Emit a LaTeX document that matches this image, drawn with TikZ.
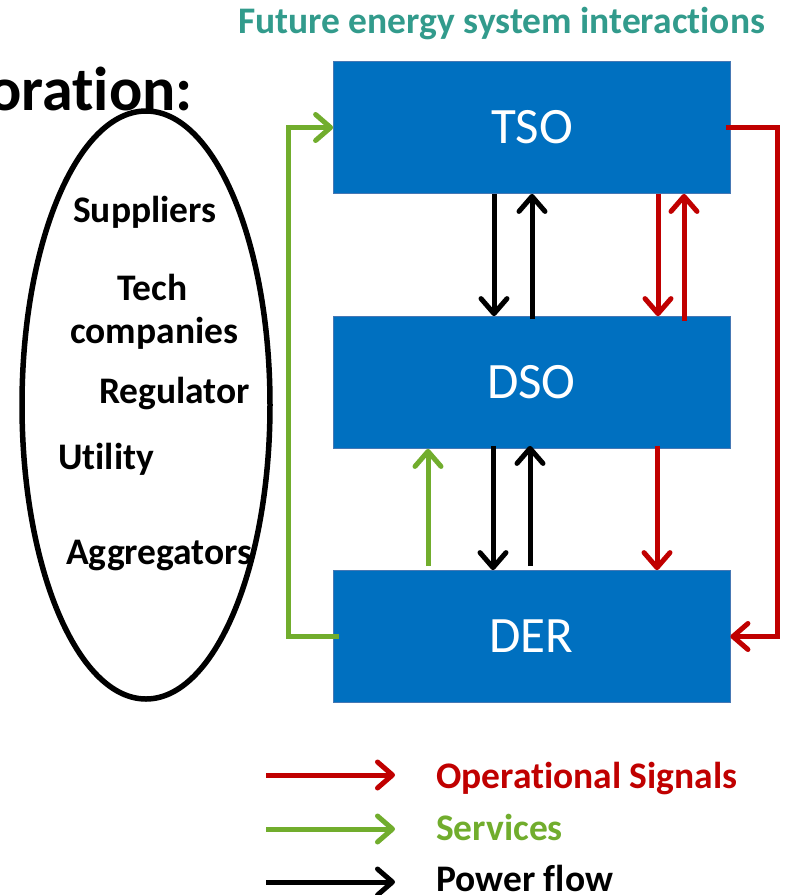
\documentclass[tikz,border=0pt]{standalone}
\usepackage{fontspec}
\setmainfont{Carlito}[Ligatures=NoCommon]
\usetikzlibrary{arrows.meta}
\definecolor{boxblue}{RGB}{0,112,192}
\definecolor{boxedge}{RGB}{70,120,180}
\definecolor{sigred}{RGB}{192,0,0}
\definecolor{servgreen}{RGB}{113,173,45}
\definecolor{titleteal}{RGB}{50,155,140}
\tikzset{
  box/.style={fill=boxblue, draw=boxedge, line width=0.8pt, minimum width=397pt, minimum height=132pt, inner sep=0pt, text=white, font=\fontsize{51}{60}\selectfont},
  conn/.style={line width=5pt, -{Straight Barb[length=15pt,width=26pt,line cap=round,line join=round]}},
  redc/.style={draw=sigred},
  greenc/.style={draw=servgreen},
  blackc/.style={draw=black},
  lbl/.style={anchor=base west, inner sep=0pt, font=\bfseries\fontsize{37.5}{44}\selectfont},
  leg/.style={anchor=base west, inner sep=0pt, font=\bfseries\fontsize{37.5}{44}\selectfont},
}
\begin{document}
\begin{tikzpicture}[x=1pt,y=-1pt]
\useasboundingbox (0,0) rectangle (786,895);
% title and heading
\node[anchor=base west, inner sep=0pt, text=titleteal, font=\bfseries\fontsize{37.5}{44}\selectfont] (title) at (238,33) {Future energy system interactions};
\node[anchor=base east, inner sep=0pt, font=\bfseries\fontsize{62}{72}\selectfont] (head) at (193,110) {oration:};
% boxes
\node[box] (tso) at (532,127.5) {TSO};
\node[box] (dso) at (531.5,382.5) {DSO};
\node[box] (der) at (531.5,636.5) {DER};
% x positions
\coordinate (xg) at (288,0);
\coordinate (xr) at (777,0);
\coordinate (a1) at (494,0);
\coordinate (a2) at (532,0);
\coordinate (a3) at (658,0);
\coordinate (a4) at (684,0);
\coordinate (b0) at (428,0);
\coordinate (b1) at (493,0);
\coordinate (b2) at (530,0);
\coordinate (b3) at (657,0);
% TSO <-> DSO
\draw[conn,blackc] (tso.south -| a1) -- (dso.north -| a1);
\draw[conn,blackc] ([yshift=-3pt]dso.north -| a2) -- (tso.south -| a2);
\draw[conn,redc] (tso.south -| a3) -- (dso.north -| a3);
\draw[conn,redc] ([yshift=-5pt]dso.north -| a4) -- (tso.south -| a4);
% DSO <-> DER
\draw[conn,greenc] ([yshift=4pt]der.north -| b0) -- (dso.south -| b0);
\draw[conn,blackc] ([yshift=3pt]dso.south -| b1) -- (der.north -| b1);
\draw[conn,blackc] ([yshift=4pt]der.north -| b2) -- ([yshift=3pt]dso.south -| b2);
\draw[conn,redc] ([yshift=3pt]dso.south -| b3) -- (der.north -| b3);
% loops
\draw[conn,greenc,line join=miter] ([xshift=6pt]der.west) -- (der.west -| xg) -- (tso.west -| xg) -- (tso.west);
\draw[conn,redc,line join=miter] ([xshift=-5pt]tso.east) -- (tso.east -| xr) -- (der.east -| xr) -- (der.east);
% ellipse labels
\node[lbl] (sup) at (73,222) {Suppliers};
\node[lbl] (tech) at (117,300) {Tech};
\node[lbl] (comp) at (70,343) {companies};
\node[lbl] (reg) at (99,403) {Regulator};
\node[lbl] (util) at (58,469) {Utility};
\node[lbl] (agg) at (66,564) {Aggregators};
\draw[line width=5.5pt] (146,405) ellipse [x radius=124, y radius=294];
% legend
\coordinate (l1s) at (266,775); \coordinate (l1e) at (395,775);
\coordinate (l2s) at (266,829); \coordinate (l2e) at (395,829);
\coordinate (l3s) at (266,882); \coordinate (l3e) at (395,882);
\draw[conn,redc] (l1s) -- (l1e);
\draw[conn,greenc] (l2s) -- (l2e);
\draw[conn,blackc] (l3s) -- (l3e);
\node[leg, text=sigred] (t1) at (436,788) {Operational Signals};
\node[leg, text=servgreen] (t2) at (436,840) {Services};
\node[leg, text=black] (t3) at (436,891) {Power flow};
\end{tikzpicture}
\end{document}
